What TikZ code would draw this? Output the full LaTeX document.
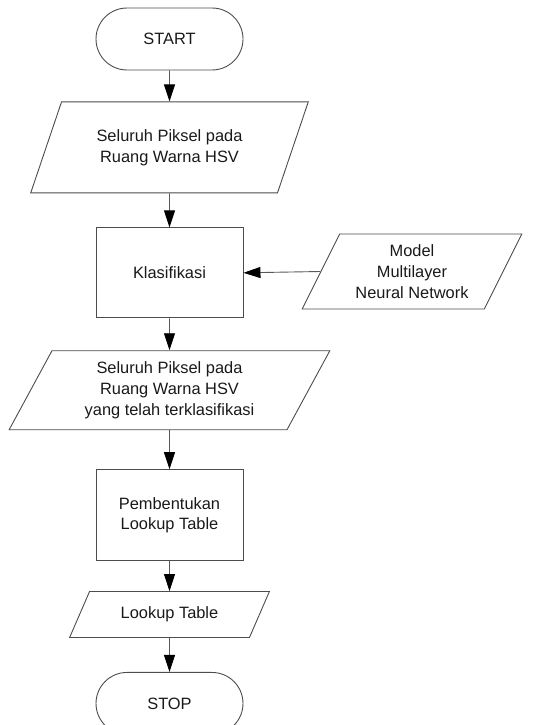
\documentclass[tikz,border=0pt]{standalone}
\usepackage{fontspec}
\setmainfont{Liberation Sans}
\usetikzlibrary{positioning,arrows.meta,shapes.geometric}

\begin{document}
\begin{tikzpicture}[
  x=1pt, y=1pt,
  node distance=32pt,
  every node/.style={font=\fontsize{16.4}{20.7}\selectfont, text=black!90, align=center},
  terminal/.style={draw=black!70, line width=0.9pt, rounded corners=31pt, minimum width=147pt, minimum height=62pt},
  process/.style={draw=black!70, line width=0.9pt, minimum width=147pt, minimum height=91pt},
  io/.style={draw=black!70, line width=0.9pt, trapezium, trapezium stretches=true, trapezium left angle=64, trapezium right angle=116, inner xsep=0pt},
  flow/.style={-{Triangle[length=17pt,width=11pt,black]}, draw=black!65, line width=0.9pt}
]
\useasboundingbox (0,0) rectangle (535,-725);

% main column
\node[terminal] (start) at (169.5,-39) {START};
\node[io, minimum width=278pt, minimum height=91pt, below=31pt of start] (pixel) {Seluruh Piksel pada\\Ruang Warna HSV};
\node[process, minimum height=90pt, below=34pt of pixel] (klas) {Klasifikasi};
\node[io, minimum width=321pt, minimum height=79pt, below=32pt of klas] (pixelk) {Seluruh Piksel pada\\Ruang Warna HSV\\yang telah terklasifikasi};
\node[process, below=39pt of pixelk] (lut) {Pembentukan\\Lookup Table};
\node[io, trapezium left angle=61, trapezium right angle=119, minimum width=200pt, minimum height=46pt, below=30pt of lut] (table) {Lookup Table};
\node[terminal, below=34pt of table] (stop) {STOP};

% model input
\node[io, minimum width=220pt, minimum height=75pt] (model) at (412,-271.5) {Model\\Multilayer\\Neural Network};

\draw[flow] (start) -- (pixel);
\draw[flow] (pixel) -- (klas);
\draw[flow] (klas) -- (pixelk);
\draw[flow] (pixelk) -- (lut);
\draw[flow] (lut) -- (table);
\draw[flow] (table) -- (stop);
\draw[flow] (model.left side) -- (klas.east);
\end{tikzpicture}
\end{document}
